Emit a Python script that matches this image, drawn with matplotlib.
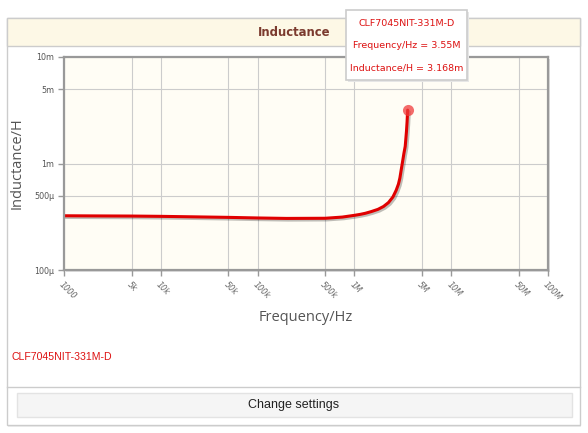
import matplotlib
matplotlib.use("Agg")
import matplotlib.pyplot as plt
import matplotlib.patheffects as pe
from matplotlib.patches import Rectangle

# values
freq = [1e3, 2e3, 5e3, 1e4, 2e4, 5e4, 1e5, 2e5, 5e5, 7.5e5, 1e6, 1.15e6,
        1.3e6, 1.5e6, 1.75e6, 2e6, 2.25e6, 2.5e6, 2.7e6, 2.85e6, 2.95e6,
        3.05e6, 3.15e6, 3.25e6, 3.35e6, 3.45e6, 3.5e6, 3.55e6]
inductance = [323e-6, 322e-6, 321e-6, 319e-6, 316e-6, 312e-6, 308e-6,
              305e-6, 306e-6, 314e-6, 326e-6, 333e-6, 341e-6, 354e-6,
              371e-6, 395e-6, 430e-6, 485e-6, 560e-6, 640e-6, 730e-6,
              880e-6, 1.05e-3, 1.25e-3, 1.45e-3, 2.0e-3, 2.45e-3, 3.168e-3]

xtick_vals = [1e3, 5e3, 1e4, 5e4, 1e5, 5e5, 1e6, 5e6, 1e7, 5e7, 1e8]
xtick_labels = ["1000", "5k", "10k", "50k", "100k", "500k", "1M", "5M",
                "10M", "50M", "100M"]
ytick_vals = [1e-4, 5e-4, 1e-3, 5e-3, 1e-2]
ytick_labels = ["100\u00b5", "500\u00b5", "1m", "5m", "10m"]

part = "CLF7045NIT-331M-D"
W, H = 588, 433

fig = plt.figure(figsize=(W / 100, H / 100), dpi=100)
fig.patch.set_facecolor("white")

# background panel in pixel coordinates
bg = fig.add_axes([0, 0, 1, 1], zorder=0)
bg.set_xlim(0, W)
bg.set_ylim(H, 0)
bg.axis("off")
bg.add_patch(Rectangle((8, 20), 573, 407, facecolor="#eeeeee", edgecolor="none"))
bg.add_patch(Rectangle((7, 18), 573, 407, facecolor="white", edgecolor="#cccccc", lw=1))
bg.add_patch(Rectangle((7, 18), 573, 28, facecolor="#fdf8e6", edgecolor="#cccccc", lw=1))
bg.text(294, 32, "Inductance", ha="center", va="center", fontsize=8.4,
        fontweight="bold", color="#7b3a2e", family="DejaVu Sans")
bg.text(12, 357, part, ha="left", va="center", fontsize=7.6, color="#dd1111",
        family="Liberation Sans")
bg.plot([7, 580], [387, 387], color="#cccccc", lw=1)
bg.add_patch(Rectangle((17, 393), 555, 24, facecolor="#f5f5f5", edgecolor="#e3e3e3", lw=1))
bg.text(294, 405, "Change settings", ha="center", va="center", fontsize=9,
        color="#222222", family="Liberation Sans")
# axes shadow
bg.add_patch(Rectangle((66, 59), 484, 213, facecolor="#dddddd", edgecolor="none"))

# main chart
ax = fig.add_axes([64 / W, (H - 270) / H, 484 / W, 213 / H], zorder=1)
ax.set_facecolor("#fffdf5")
ax.set_xscale("log")
ax.set_yscale("log")
ax.set_xlim(1e3, 1e8)
ax.set_ylim(1e-4, 1e-2)
ax.minorticks_off()
ax.set_xticks(xtick_vals)
ax.set_xticklabels(xtick_labels, rotation=-45, ha="left", va="top",
                   rotation_mode="anchor", fontsize=5.8, color="#666666",
                   style="italic")
ax.set_yticks(ytick_vals)
ax.set_yticklabels(ytick_labels, fontsize=5.8, color="#555555")
ax.tick_params(axis="both", length=4, width=1, color="#999999", pad=3)
ax.grid(True, color="#cccccc", lw=0.8)
ax.set_axisbelow(True)
for s in ax.spines.values():
    s.set_color("#999999")
    s.set_linewidth(1.6)

ax.plot(freq, inductance, color="#e00000", lw=2.2, solid_capstyle="round",
        solid_joinstyle="round",
        path_effects=[pe.SimpleLineShadow(offset=(1.2, -1.2), alpha=0.25),
                      pe.Normal()])
ax.plot(freq[-1:], inductance[-1:], "o", color="#f03c3c", alpha=0.75,
        markersize=8, markeredgewidth=0)

ax.set_xlabel("Frequency/Hz", fontsize=10.5, color="#555555", family="Open Sans",
              labelpad=6)
ax.set_ylabel("Inductance/H", fontsize=10.5, color="#555555", family="Open Sans",
              labelpad=7)

# tooltip overlay
ov = fig.add_axes([0, 0, 1, 1], zorder=3)
ov.set_xlim(0, W)
ov.set_ylim(H, 0)
ov.axis("off")
ov.patch.set_alpha(0)
ov.add_patch(Rectangle((348, 12), 121, 70, facecolor="#e6e6e6", edgecolor="none"))
ov.add_patch(Rectangle((346, 10), 121, 70, facecolor="white", edgecolor="#cccccc", lw=1.2))
tip = [part, "Frequency/Hz = 3.55M", "Inductance/H = 3.168m"]
for i, t in enumerate(tip):
    ov.text(407, 23 + i * 22.5, t, ha="center", va="center", fontsize=6.8,
            color="#dd1111", family="DejaVu Sans")

fig.savefig("out.png", dpi=100)
